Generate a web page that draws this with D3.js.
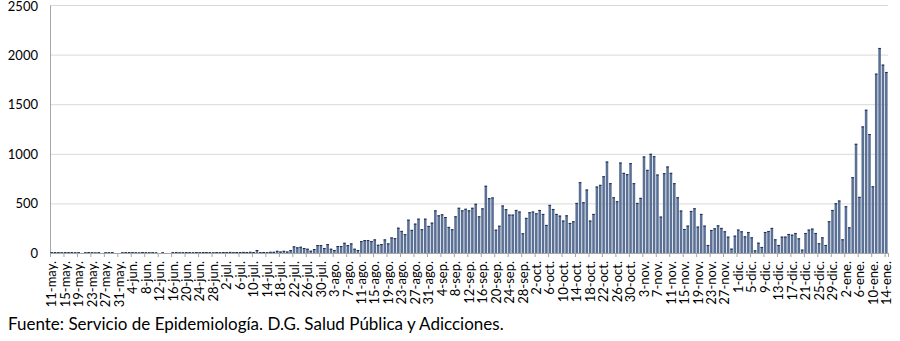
<!DOCTYPE html>
<html><head><meta charset="utf-8">
<script src="https://cdn.jsdelivr.net/npm/d3@7/dist/d3.min.js"></script>
<style>body{margin:0;background:#fff;} svg{display:block;}</style>
</head><body>
<svg id="chart" width="900" height="341"></svg>
<script>
// Daily values, 11-may-2020 .. 14-ene-2021
const mayo = [8,9,8,7,9,8,9,7,8,0,7,9,8,6,8,0,7,8,9,0,0];
const junio = [7,8,9,8,7,6,9,8,7,8,6,0,7,0,0,8,9,7,8,9,8,7,9,8,10,9,8,7,9,8];
const julio = [10,9,11,8,10,9,11,10,12,10,30,8,10,8,12,12,22,15,22,15,30,67,57,63,50,43,23,40,80,80,50];
const agosto = [90,43,30,70,70,103,80,97,43,30,120,130,130,120,137,83,90,137,97,157,150,255,223,190,336,233,296,346,240,346,273];
const septiembre = [306,430,380,390,363,263,240,370,456,430,446,430,456,496,370,450,678,553,560,235,275,479,442,387,387,434,418,199,354,411];
const octubre = [418,400,434,394,283,485,444,394,377,327,380,303,320,505,714,512,640,327,394,670,687,774,922,704,562,522,912,808,795,906,704];
const noviembre = [505,556,973,838,1000,976,791,367,805,872,808,704,562,428,242,276,424,451,266,394,276,81,232,249,279,253,219,165,44,175];
const diciembre = [236,219,168,212,158,27,104,61,212,222,253,138,81,165,165,192,185,202,148,34,202,236,246,202,98,158,81,320,434,502,529];
const enero = [138,471,259,764,1101,566,1276,1444,1199,673,1808,2067,1899,1825];

const values = [].concat(mayo, junio, julio, agosto, septiembre, octubre, noviembre, diciembre, enero);

const monthNames = ["ene","feb","mar","abr","may","jun","jul","ago","sep","oct","nov","dic"];
const categories = d3.timeDay.range(new Date(2020,4,11), new Date(2021,0,15))
  .map(d => d.getDate() + "-" + monthNames[d.getMonth()] + ".");

const tickLabels = ["11-may.","15-may.","19-may.","23-may.","27-may.","31-may.","4-jun.","8-jun.","12-jun.","16-jun.","20-jun.","24-jun.","28-jun.","2-jul.","6-jul.","10-jul.","14-jul.","18-jul.","22-jul.","26-jul.","30-jul.","3-ago.","7-ago.","11-ago.","15-ago.","19-ago.","23-ago.","27-ago.","31-ago.","4-sep.","8-sep.","12-sep.","16-sep.","20-sep.","24-sep.","28-sep.","2-oct.","6-oct.","10-oct.","14-oct.","18-oct.","22-oct.","26-oct.","30-oct.","3-nov.","7-nov.","11-nov.","15-nov.","19-nov.","23-nov.","27-nov.","1-dic.","5-dic.","9-dic.","13-dic.","17-dic.","21-dic.","25-dic.","29-dic.","2-ene.","6-ene.","10-ene.","14-ene."];
const yTicks = [0,500,1000,1500,2000,2500];
const sourceText = "Fuente: Servicio de Epidemiología. D.G. Salud Pública y Adicciones.";

const svg = d3.select("#chart");
const mLeft = 50, mRight = 888, mTop = 5, mBottom = 253;
const font = "Lato, 'Open Sans', sans-serif";

const pad = 0.24;
const x = d3.scaleBand().domain(d3.range(values.length)).range([mLeft, mRight])
  .paddingInner(pad).paddingOuter(pad/2);
const xEdge = d3.scaleLinear().domain([0, values.length]).range([mLeft, mRight]);
const y = d3.scaleLinear().domain([0, 2500]).range([mBottom, mTop]);

// gridlines
const grid = svg.append("g").attr("transform", `translate(${mLeft},0)`)
  .call(d3.axisLeft(y).tickValues(yTicks.filter(v => v > 0)).tickSize(-(mRight-mLeft)).tickFormat(""));
grid.select(".domain").remove();
grid.selectAll("line").attr("stroke", "#d9d9d9").attr("stroke-width", 1);

// y labels
const yAx = svg.append("g").attr("transform", `translate(${mLeft},0)`)
  .call(d3.axisLeft(y).tickValues(yTicks).tickSize(0).tickPadding(12).tickFormat(d3.format("d")));
yAx.select(".domain").attr("stroke", "#a6a6a6");
yAx.selectAll("text").attr("font-family", font).attr("font-size", 13).attr("fill", "#000")
  .attr("dy", d => d === 2500 ? "0.45em" : "0.34em");

// bars
svg.append("g").selectAll("rect").data(values).join("rect")
  .attr("x", (d,i) => x(i)).attr("width", x.bandwidth())
  .attr("y", d => y(d)).attr("height", d => mBottom - y(d))
  .attr("fill", "#5b7095");
svg.append("g").selectAll("rect").data(values.map((v,i)=>[v,i]).filter(d => d[0] > 0)).join("rect")
  .attr("x", d => x(d[1])).attr("width", x.bandwidth())
  .attr("y", d => y(d[0])).attr("height", 1)
  .attr("fill", "#1f2f52");

// x axis ticks (category boundaries)
const tickIdx = d3.range(0, values.length, 4);
const xt = svg.append("g").attr("transform", `translate(0,${mBottom})`)
  .call(d3.axisBottom(xEdge).tickValues(tickIdx.concat([values.length])).tickSize(4).tickFormat(""));
xt.select(".domain").attr("stroke", "#a6a6a6");
xt.selectAll("line").attr("stroke", "#a6a6a6");

// x labels
const xl = svg.append("g").attr("transform", `translate(0,${mBottom})`)
  .call(d3.axisBottom(x).tickValues(tickIdx).tickSize(0).tickFormat((i) => tickLabels[i/4]));
xl.select(".domain").remove();
xl.selectAll("text")
  .attr("transform", "rotate(-90)")
  .attr("x", -8).attr("y", 0).attr("dy", "0.36em")
  .attr("text-anchor", "end")
  .attr("font-family", font).attr("font-size", 13).attr("fill", "#000");

// source
const src = svg.append("text").attr("x", 8).attr("y", 330)
  .attr("font-family", font).attr("font-size", 15).attr("fill", "#000").text(sourceText);
const w = src.node().getComputedTextLength();
src.attr("font-size", 15 * 496 / w);
</script>
</body></html>
